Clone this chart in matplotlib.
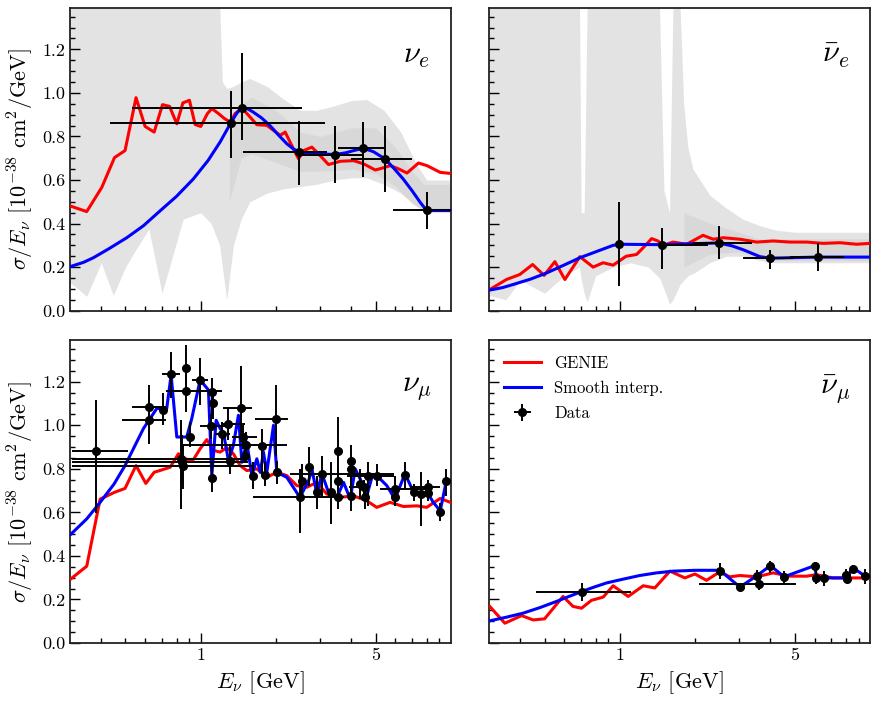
import numpy as np
import matplotlib
matplotlib.use("Agg")
import matplotlib.pyplot as plt
from matplotlib.ticker import FixedLocator, NullFormatter, MultipleLocator, FormatStrFormatter

plt.rcParams["font.family"] = "serif"
plt.rcParams["font.serif"] = ["cmr10"]
plt.rcParams["mathtext.fontset"] = "cm"
plt.rcParams["axes.formatter.use_mathtext"] = True

# ---------------- nu_e ----------------
e_genie_E = [0.302, 0.35, 0.402, 0.452, 0.498, 0.551, 0.599, 0.651, 0.703, 0.75, 0.802, 0.848, 0.901,
             0.949, 1.0, 1.063, 1.107, 1.177, 1.244, 1.31, 1.372, 1.459, 1.552, 1.675, 1.836, 1.953,
             2.076, 2.175, 2.311, 2.46, 2.576, 2.78, 3.0, 3.24, 3.61, 4.08, 4.48, 4.98, 5.3, 5.72,
             6.18, 6.67, 7.42, 8.02, 9.06, 10.0]
e_genie_v = [0.48, 0.455, 0.566, 0.703, 0.735, 0.978, 0.846, 0.82, 0.946, 0.938, 0.858, 0.954, 0.966,
             0.855, 0.846, 0.905, 0.928, 0.905, 0.882, 0.866, 0.905, 0.93, 0.897, 0.854, 0.851, 0.828,
             0.805, 0.82, 0.758, 0.697, 0.735, 0.751, 0.712, 0.671, 0.686, 0.689, 0.674, 0.646, 0.654,
             0.666, 0.651, 0.632, 0.678, 0.666, 0.635, 0.63]
e_interp_E = [0.3, 0.34, 0.372, 0.43, 0.506, 0.59, 0.687, 0.8, 0.934, 1.07, 1.194, 1.318, 1.39, 1.46,
              1.55, 1.62, 1.75, 1.89, 2.05, 2.21, 2.35, 2.47, 2.7, 3.0, 3.44, 3.8, 4.08, 4.47, 4.9,
              5.45, 5.9, 6.44, 7.0, 7.54, 7.99, 10.0]
e_interp_v = [0.202, 0.222, 0.243, 0.285, 0.335, 0.39, 0.458, 0.525, 0.605, 0.69, 0.774, 0.862, 0.905,
              0.935, 0.925, 0.912, 0.885, 0.85, 0.805, 0.766, 0.742, 0.73, 0.722, 0.72, 0.717, 0.725,
              0.735, 0.746, 0.73, 0.697, 0.655, 0.605, 0.55, 0.497, 0.46, 0.46]
e_data_E = [1.318, 1.46, 2.47, 3.44, 4.47, 5.45, 7.99]
e_data_v = [0.862, 0.932, 0.730, 0.717, 0.746, 0.697, 0.460]
e_data_Elo = [0.434, 0.533, 1.48, 2.5, 3.52, 3.99, 5.86]
e_data_Ehi = [3.14, 2.55, 3.19, 4.45, 5.38, 6.98, 10.5]
e_data_vlo = [0.70, 0.785, 0.577, 0.586, 0.612, 0.543, 0.374]
e_data_vhi = [1.007, 1.181, 0.869, 0.848, 0.866, 0.848, 0.543]
e_band_E = [0.30, 0.35, 0.40, 0.447, 0.50, 0.55, 0.62, 0.70, 0.85, 1.0, 1.1, 1.19, 1.22, 1.27, 1.35,
            1.45, 1.57, 1.84, 2.15, 2.5, 2.9, 3.4, 4.0, 4.6, 5.4, 6.3, 7.3, 8.0, 10.0]
e_band_lo = [0.13, 0.066, 0.22, 0.07, 0.20, 0.28, 0.375, 0.08, 0.42, 0.45, 0.40, 0.30, 0.20, 0.05, 0.30,
             0.42, 0.50, 0.54, 0.56, 0.57, 0.58, 0.60, 0.61, 0.61, 0.58, 0.54, 0.48, 0.45, 0.45]
e_band_hi = [1.4, 1.4, 1.4, 1.4, 1.4, 1.4, 1.4, 1.4, 1.4, 1.4, 1.4, 1.4, 1.05, 1.02, 1.03, 1.05, 1.066,
             1.03, 0.97, 0.92, 0.92, 0.94, 0.965, 0.97, 0.92, 0.82, 0.67, 0.60, 0.60]
e_core_E = [1.3, 1.45, 1.6, 2.0, 2.5, 3.0, 4.0, 5.0, 6.0, 7.0, 7.8, 10.0]
e_core_lo = [0.5, 0.70, 0.72, 0.68, 0.64, 0.64, 0.65, 0.63, 0.57, 0.49, 0.46, 0.46]
e_core_hi = [0.8, 0.95, 0.98, 0.92, 0.82, 0.80, 0.84, 0.84, 0.75, 0.64, 0.58, 0.58]

# ---------------- anti nu_e ----------------
eb_genie_E = [0.302, 0.352, 0.398, 0.448, 0.498, 0.55, 0.603, 0.692, 0.782, 0.857, 0.94, 1.06, 1.166,
              1.24, 1.34, 1.42, 1.49, 1.63, 1.85, 2.15, 2.36, 2.59, 3.02, 3.52, 4.1, 4.79, 5.58, 6.5,
              7.59, 8.84, 10.0]
eb_genie_v = [0.097, 0.143, 0.166, 0.212, 0.162, 0.225, 0.143, 0.248, 0.20, 0.22, 0.209, 0.25, 0.258,
              0.289, 0.331, 0.32, 0.30, 0.315, 0.305, 0.346, 0.328, 0.335, 0.328, 0.315, 0.32, 0.315,
              0.315, 0.309, 0.312, 0.305, 0.309]
eb_interp_E = [0.3, 0.34, 0.374, 0.44, 0.509, 0.6, 0.692, 0.8, 0.94, 0.99, 1.48, 2.48, 2.8, 3.11, 3.63,
               4.0, 6.17, 10.0]
eb_interp_v = [0.094, 0.106, 0.12, 0.145, 0.173, 0.21, 0.243, 0.27, 0.30, 0.305, 0.303, 0.311, 0.298,
               0.28, 0.248, 0.241, 0.246, 0.246]
eb_data_E = [0.99, 1.48, 2.48, 4.0, 6.17]
eb_data_v = [0.305, 0.30, 0.311, 0.241, 0.246]
eb_data_Elo = [0.99, 1.48, 1.96, 3.1, 4.8]
eb_data_Ehi = [0.99, 2.26, 3.36, 4.94, 7.9]
eb_data_vlo = [0.112, 0.19, 0.235, 0.19, 0.184]
eb_data_vhi = [0.50, 0.38, 0.39, 0.279, 0.31]
eb_band_E = [0.30, 0.35, 0.40, 0.50, 0.60, 0.69, 0.70, 0.72, 0.74, 0.80, 0.94, 1.1, 1.3, 1.44, 1.50,
             1.58, 1.63, 1.74, 1.80, 1.87, 1.96, 2.29, 2.67, 3.1, 3.63, 4.2, 5.0, 7.0, 10.0]
eb_band_lo = [0.07, 0.05, 0.14, 0.08, 0.16, 0.2, 0.15, 0.08, 0.04, 0.16, 0.2, 0.22, 0.2, 0.15, 0.1,
              0.03, 0.05, 0.12, 0.14, 0.16, 0.17, 0.22, 0.25, 0.25, 0.23, 0.22, 0.22, 0.22, 0.22]
eb_band_hi = [1.4, 1.4, 1.4, 1.4, 1.4, 1.4, 0.45, 0.45, 1.4, 1.4, 1.4, 1.4, 1.4, 1.4, 0.55, 0.45,
              1.4, 1.4, 0.95, 0.75, 0.65, 0.53, 0.47, 0.42, 0.39, 0.37, 0.36, 0.36, 0.36]
eb_core_E = [1.8, 2.3, 3.0, 3.6, 4.2, 10.0]
eb_core_lo = [0.20, 0.26, 0.27, 0.24, 0.23, 0.23]
eb_core_hi = [0.45, 0.40, 0.36, 0.33, 0.33, 0.33]

# ---------------- nu_mu ----------------
mu_genie_E = [0.302, 0.35, 0.396, 0.452, 0.498, 0.551, 0.603, 0.651, 0.754, 0.814, 0.879, 0.935, 0.994,
              1.057, 1.124, 1.195, 1.27, 1.35, 1.436, 1.527, 1.675, 1.836, 2.013, 2.207, 2.42, 2.65,
              2.91, 3.19, 3.61, 4.08, 4.61, 5.05, 5.71, 6.46, 7.31, 8.0, 9.06, 10.0]
mu_genie_v = [0.294, 0.353, 0.661, 0.692, 0.71, 0.815, 0.733, 0.784, 0.807, 0.869, 0.843, 0.843, 0.892,
              0.934, 0.884, 0.877, 0.897, 0.869, 0.815, 0.792, 0.80, 0.761, 0.784, 0.769, 0.723, 0.715,
              0.738, 0.684, 0.669, 0.676, 0.653, 0.623, 0.646, 0.627, 0.63, 0.623, 0.664, 0.645]
mu_interp_E = [0.302, 0.35, 0.396, 0.45, 0.498, 0.59, 0.667, 0.731, 0.761, 0.802, 0.879, 0.92, 0.994,
               1.073, 1.107, 1.152, 1.195, 1.23, 1.29, 1.35, 1.414, 1.46, 1.527, 1.6, 1.675, 1.73,
               1.78, 1.836, 1.953, 2.013, 2.207, 2.49, 2.7, 2.78, 2.91, 3.05, 3.24, 3.5, 3.72, 3.96,
               4.14, 4.34, 4.61, 4.83, 5.05, 5.54, 5.97, 6.55, 7.1, 7.67, 8.12, 8.5, 9.06, 9.58, 10.0]
mu_interp_v = [0.499, 0.57, 0.646, 0.73, 0.815, 0.985, 1.077, 1.077, 1.231, 0.946, 0.946, 1.03, 1.208,
               1.162, 0.769, 1.023, 0.985, 0.969, 0.838, 0.908, 1.046, 0.83, 0.923, 0.769, 0.846,
               0.784, 0.877, 0.784, 1.0, 0.784, 0.761, 0.669, 0.746, 0.80, 0.684, 0.777, 0.692, 0.669,
               0.738, 0.661, 0.80, 0.753, 0.676, 0.761, 0.769, 0.723, 0.661, 0.777, 0.692, 0.684,
               0.684, 0.646, 0.607, 0.743, 0.743]
mu_data_E = [0.38, 0.621, 0.621, 0.709, 0.761, 0.834, 0.842, 0.847, 0.871, 0.871, 0.906, 0.994, 1.10,
             1.107, 1.113, 1.124, 1.213, 1.29, 1.31, 1.445, 1.48, 1.513, 1.505, 1.61, 1.754, 1.81, 2.0,
             2.013, 2.49, 2.53, 2.72, 2.91, 3.05, 3.32, 3.52, 3.52, 3.52, 4.0, 4.0, 4.0, 4.34, 4.48,
             4.54, 4.65, 5.05, 5.97, 5.97, 6.55, 7.1, 7.6, 8.1, 8.1, 9.06, 9.58]
mu_data_v = [0.884, 1.023, 1.082, 1.072, 1.234, 0.846, 0.830, 0.815, 1.262, 1.157, 0.946, 1.208, 0.995,
             0.757, 1.154, 1.10, 0.961, 1.008, 0.838, 1.08, 0.946, 0.908, 0.861, 0.769, 0.905, 0.773,
             1.031, 0.784, 0.669, 0.746, 0.807, 0.692, 0.777, 0.692, 0.884, 0.746, 0.669, 0.838, 0.80,
             0.676, 0.73, 0.715, 0.669, 0.769, 0.769, 0.707, 0.669, 0.773, 0.692, 0.684, 0.715, 0.689,
             0.602, 0.743]
mu_data_Elo = [0.305, 0.483, 0.533, 0.709, 0.698, 0.305, 0.305, 0.305, 0.871, 0.724, 0.906, 0.92, 0.994,
               1.107, 1.113, 1.124, 1.14, 1.22, 1.31, 1.225, 1.33, 0.852, 1.505, 1.61, 1.754, 1.81,
               1.65, 2.013, 1.61, 2.53, 2.72, 2.91, 2.27, 3.32, 3.52, 3.52, 3.52, 4.0, 4.0, 4.0, 4.34,
               3.9, 4.54, 4.65, 3.83, 5.22, 5.97, 6.55, 7.1, 7.6, 6.88, 8.1, 9.06, 9.58]
mu_data_Ehi = [0.513, 0.724, 0.724, 0.709, 0.827, 1.527, 1.55, 1.60, 0.871, 1.213, 0.906, 1.073, 1.31,
               1.107, 1.113, 1.124, 1.31, 1.50, 1.31, 1.60, 1.675, 2.207, 1.505, 1.61, 1.754, 1.81,
               2.24, 2.013, 3.72, 2.53, 2.72, 2.91, 5.9, 3.32, 3.52, 3.52, 3.52, 4.0, 4.0, 4.0, 4.34,
               4.76, 4.54, 4.65, 5.9, 8.3, 5.97, 6.55, 7.1, 7.6, 9.06, 8.1, 9.06, 9.58]
mu_data_vlo = [0.599, 0.915, 1.0, 1.0, 1.123, 0.615, 0.738, 0.707, 1.146, 1.06, 0.90, 1.092, 0.938,
               0.692, 1.046, 1.031, 0.892, 0.931, 0.777, 0.923, 0.892, 0.838, 0.83, 0.707, 0.769, 0.723,
               0.861, 0.73, 0.507, 0.676, 0.723, 0.615, 0.676, 0.545, 0.738, 0.692, 0.615, 0.769,
               0.738, 0.607, 0.661, 0.68, 0.615, 0.63, 0.72, 0.638, 0.63, 0.707, 0.65, 0.538, 0.68,
               0.65, 0.56, 0.676]
mu_data_vhi = [1.116, 1.14, 1.185, 1.146, 1.336, 1.023, 0.954, 0.908, 1.37, 1.247, 1.015, 1.311, 1.054,
               0.83, 1.216, 1.154, 1.015, 1.077, 0.915, 1.27, 1.0, 0.969, 0.892, 0.83, 0.985, 0.83,
               1.185, 0.838, 0.80, 0.823, 0.90, 0.769, 0.861, 0.83, 1.039, 0.80, 0.753, 0.908, 0.861,
               0.769, 0.80, 0.75, 0.723, 0.83, 0.82, 0.769, 0.71, 0.83, 0.73, 0.785, 0.75, 0.73,
               0.645, 0.80]

# ---------------- anti nu_mu ----------------
mub_genie_E = [0.302, 0.347, 0.405, 0.45, 0.5, 0.593, 0.65, 0.703, 0.77, 0.858, 0.94, 1.08, 1.24, 1.38,
               1.585, 1.82, 1.995, 2.22, 2.51, 2.75, 3.02, 3.52, 4.1, 4.79, 5.58, 6.1, 7.1, 8.84, 10.0]
mub_genie_v = [0.168, 0.091, 0.126, 0.106, 0.111, 0.214, 0.168, 0.16, 0.196, 0.211, 0.263, 0.214, 0.263,
               0.253, 0.33, 0.299, 0.317, 0.288, 0.327, 0.304, 0.31, 0.304, 0.322, 0.307, 0.307, 0.314,
               0.299, 0.299, 0.299]
mub_interp_E = [0.302, 0.35, 0.41, 0.48, 0.558, 0.62, 0.703, 0.78, 0.885, 1.0, 1.2, 1.4, 1.63, 2.0,
                2.51, 3.02, 3.54, 4.0, 4.53, 6.03, 6.1, 6.55, 8.02, 8.58, 9.55, 10.0]
mub_interp_v = [0.102, 0.118, 0.137, 0.163, 0.191, 0.212, 0.236, 0.255, 0.276, 0.29, 0.31, 0.322, 0.33,
                0.334, 0.334, 0.257, 0.31, 0.356, 0.304, 0.356, 0.299, 0.299, 0.299, 0.345, 0.307, 0.307]
mub_data_E = [0.703, 2.51, 3.02, 3.54, 3.59, 4.0, 4.53, 6.03, 6.08, 6.55, 8.02, 8.07, 8.58, 9.55]
mub_data_v = [0.236, 0.33, 0.257, 0.31, 0.271, 0.353, 0.304, 0.353, 0.299, 0.299, 0.314, 0.294, 0.342,
              0.307]
mub_data_Elo = [0.464, 2.51, 3.02, 3.54, 2.08, 4.0, 4.53, 6.03, 6.08, 6.55, 8.02, 8.07, 8.58, 9.55]
mub_data_Ehi = [1.113, 2.51, 3.02, 3.54, 5.06, 4.0, 4.53, 6.03, 6.08, 6.55, 8.02, 8.07, 8.58, 9.55]
mub_data_vlo = [0.191, 0.295, 0.24, 0.285, 0.245, 0.322, 0.276, 0.335, 0.27, 0.26, 0.29, 0.28, 0.325, 0.27]
mub_data_vhi = [0.276, 0.368, 0.275, 0.335, 0.30, 0.376, 0.33, 0.37, 0.33, 0.33, 0.34, 0.31, 0.36, 0.34]

panels = [
    (r"$\nu_e$", e_genie_E, e_genie_v, e_interp_E, e_interp_v,
     (e_data_E, e_data_v, e_data_Elo, e_data_Ehi, e_data_vlo, e_data_vhi),
     (e_band_E, e_band_lo, e_band_hi), (e_core_E, e_core_lo, e_core_hi)),
    (r"$\bar{\nu}_e$", eb_genie_E, eb_genie_v, eb_interp_E, eb_interp_v,
     (eb_data_E, eb_data_v, eb_data_Elo, eb_data_Ehi, eb_data_vlo, eb_data_vhi),
     (eb_band_E, eb_band_lo, eb_band_hi), (eb_core_E, eb_core_lo, eb_core_hi)),
    (r"$\nu_\mu$", mu_genie_E, mu_genie_v, mu_interp_E, mu_interp_v,
     (mu_data_E, mu_data_v, mu_data_Elo, mu_data_Ehi, mu_data_vlo, mu_data_vhi), None, None),
    (r"$\bar{\nu}_\mu$", mub_genie_E, mub_genie_v, mub_interp_E, mub_interp_v,
     (mub_data_E, mub_data_v, mub_data_Elo, mub_data_Ehi, mub_data_vlo, mub_data_vhi), None, None),
]

fig, axes = plt.subplots(2, 2, figsize=(8.78, 7.05), dpi=100, sharex=True, sharey=True)
fig.subplots_adjust(left=0.0797, right=0.9909, top=0.9887, bottom=0.0879, wspace=0.1, hspace=0.098)

for ax, (lab, gE, gv, iE, iv, data, band, core) in zip(axes.flat, panels):
    if band is not None:
        ax.fill_between(band[0], band[1], band[2], color="#e3e3e3", lw=0, zorder=1)
        ax.fill_between(core[0], core[1], core[2], color="#cfcfcf", alpha=0.5, lw=0, zorder=1)
    ax.plot(gE, gv, color="red", lw=2.2, zorder=3, label="GENIE")
    ax.plot(iE, iv, color="blue", lw=2.2, zorder=3, label="Smooth interp.")
    dE, dv, Elo, Ehi, vlo, vhi = [np.array(a) for a in data]
    ax.errorbar(dE, dv, xerr=[dE - Elo, Ehi - dE], yerr=[dv - vlo, vhi - dv], fmt="o",
                color="black", ms=5.5, elinewidth=1.4, capsize=0, zorder=4, label="Data")
    ax.text(0.91, 0.84, lab, transform=ax.transAxes, fontsize=22, ha="center", va="center")

    ax.set_xscale("log")
    ax.set_xlim(0.3, 10)
    ax.set_ylim(0, 1.39)
    ax.xaxis.set_major_locator(FixedLocator([1, 5]))
    ax.xaxis.set_minor_locator(FixedLocator([0.4, 0.5, 0.6, 0.7, 0.8, 0.9, 2, 3, 4, 6, 7, 8, 9]))
    ax.xaxis.set_minor_formatter(NullFormatter())
    ax.set_xticklabels(["1", "5"])
    ax.yaxis.set_major_locator(MultipleLocator(0.2))
    ax.yaxis.set_minor_locator(MultipleLocator(0.05))
    ax.yaxis.set_major_formatter(FormatStrFormatter("%.1f"))
    ax.tick_params(which="both", direction="in", top=False, right=False, labelsize=13, width=1.0)
    ax.tick_params(which="major", length=7)
    ax.tick_params(which="minor", length=3.8)
    for s in ax.spines.values():
        s.set_linewidth(1.3)
        s.set_color("#222222")

for ax in axes[:, 0]:
    ax.set_ylabel(r"$\sigma/E_\nu$ [$10^{-38}$ cm$^2$/GeV]", fontsize=16)
for ax in axes[1, :]:
    ax.set_xlabel(r"$E_\nu$ [GeV]", fontsize=16)

axes[1, 1].legend(loc="upper left", frameon=False, fontsize=12, handlelength=2.2,
                  handletextpad=0.8, labelspacing=0.6)

fig.savefig("out.png", dpi=100)
